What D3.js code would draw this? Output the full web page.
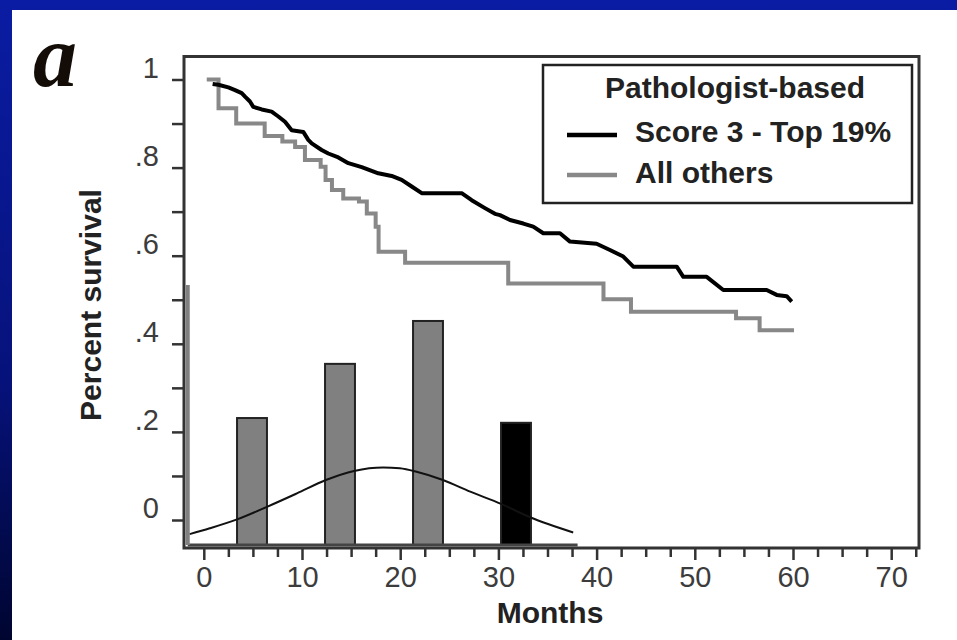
<!DOCTYPE html>
<html lang="en">
<head>
    <meta charset="UTF-8">
    <style>
        body {
            margin: 0;
            padding: 0;
            overflow: hidden;
            background-color: #fff;
        }

        #chart {
            display: block;
        }

        .tick-label {
            font-family: "Liberation Sans", Arial, sans-serif;
            font-size: 29px;
            fill: #3c3c3c;
        }

        .title {
            font-family: "Liberation Sans", Arial, sans-serif;
            font-size: 30px;
            font-weight: bold;
            fill: #222;
        }
    </style>
</head>
<body>
    <svg id="chart"></svg>

    <script src="https://cdn.jsdelivr.net/npm/d3@7"></script>
    <script>
        const width = 957;
        const height = 640;

        // axis ticks
        const monthTicks = [0, 10, 20, 30, 40, 50, 60, 70];
        const survivalTicks = [0, 0.2, 0.4, 0.6, 0.8, 1];
        const survivalTickLabels = ["0", ".2", ".4", ".6", ".8", "1"];

        // Score 3 - Top 19% (black)
        const topMonths = [0.9, 1.48, 2.5, 3.18, 3.86, 4.2, 4.7, 5.04, 5.9, 6.91, 7.59, 8.27, 8.95, 10.13, 10.64, 10.99,
            12.0, 12.68, 13.7, 14.72, 16.08, 17.77, 19.13, 20.15, 21.17, 22.19, 26.26, 27.28, 28.63, 29.65, 30.16,
            31.18, 32.54, 33.55, 34.57, 36.27, 37.29, 40.0, 41.36, 42.72, 43.74, 48.16, 48.83, 51.21, 52.9, 57.32,
            58.34, 59.36, 59.87];
        const topSurvival = [0.99, 0.988, 0.982, 0.976, 0.969, 0.961, 0.95, 0.938, 0.932, 0.927, 0.916, 0.904, 0.885, 0.881, 0.863, 0.855,
            0.84, 0.832, 0.823, 0.81, 0.801, 0.787, 0.781, 0.772, 0.757, 0.742, 0.742, 0.726, 0.708, 0.695, 0.692,
            0.681, 0.673, 0.666, 0.651, 0.651, 0.632, 0.627, 0.613, 0.598, 0.575, 0.575, 0.552, 0.552, 0.522, 0.522,
            0.511, 0.508, 0.496];

        // All others (grey), step points
        const otherMonths = [0.3, 1.5, 3.3, 6.2, 8.0, 9.3, 10.3, 11.9, 12.4, 13.05, 14.2, 15.8, 16.6, 17.5, 17.8, 20.5,
            31.0, 40.7, 43.5, 54.2, 56.6, 60.1];
        const otherSurvival = [1.0, 0.935, 0.9, 0.872, 0.859, 0.847, 0.817, 0.802, 0.772, 0.749, 0.730, 0.723, 0.696, 0.666, 0.609, 0.584,
            0.537, 0.501, 0.473, 0.458, 0.431, 0.431];

        // inset histogram
        const histBins = [1, 2, 3, 4];
        const histValues = [29.3, 41.8, 51.7, 28.2];
        const histColors = ["#808080", "#808080", "#808080", "#000"];
        const curveBins = [0.29, 0.52, 0.83, 1.17, 1.51, 1.84, 2.16, 2.49, 2.68, 2.87, 3.17, 3.48, 3.83, 4.16, 4.65];
        const curveValues = [2.5, 3.85, 5.9, 8.8, 11.9, 15.0, 17.1, 17.9, 17.7, 16.9, 15.0, 12.3, 9.5, 6.4, 2.9];

        const legendTitle = "Pathologist-based";
        const legendLabels = ["Score 3 - Top 19%", "All others"];
        const lineColors = ["#000", "#888"];

        const svg = d3.select("#chart")
            .attr("width", width)
            .attr("height", height);

        // blue slide frame
        const defs = svg.append("defs");
        const grad = defs.append("linearGradient")
            .attr("id", "bg")
            .attr("x1", 0).attr("y1", 0).attr("x2", 0).attr("y2", 1);
        grad.append("stop").attr("offset", "0%").attr("stop-color", "#0a1ca3");
        grad.append("stop").attr("offset", "60%").attr("stop-color", "#06127a");
        grad.append("stop").attr("offset", "100%").attr("stop-color", "#000530");

        svg.append("rect").attr("width", width).attr("height", height).attr("fill", "url(#bg)");
        svg.append("rect").attr("x", 12).attr("y", 10).attr("width", width - 12).attr("height", height - 10).attr("fill", "#fff");

        svg.append("text")
            .attr("x", 33)
            .attr("y", 86)
            .style("font-family", "'Liberation Serif', 'Times New Roman', serif")
            .style("font-style", "italic")
            .style("font-weight", "bold")
            .style("font-size", "88px")
            .attr("fill", "#140c06")
            .text("a");

        const frameLeft = 184, frameRight = 919, frameTop = 56.5, frameBottom = 548;

        const x = d3.scaleLinear().domain([0, 70]).range([203.8, 891.2]);
        const y = d3.scaleLinear().domain([0, 1]).range([520, 79.5]);

        // inset scales
        const hx = d3.scaleLinear().domain([0, 5]).range([164, 604]);
        const hy = d3.scaleLinear().domain([0, 60]).range([545, 285]);

        // frame
        svg.append("path")
            .attr("d", `M${frameLeft},${frameBottom}V${frameTop}H${frameRight}V${frameBottom}Z`)
            .attr("fill", "none")
            .attr("stroke", "#333")
            .attr("stroke-width", 3);

        // y axis
        const yTicks = d3.range(0, 11).map(i => i / 10);
        const yAxis = svg.append("g")
            .attr("transform", `translate(${frameLeft},0)`)
            .call(d3.axisLeft(y)
                .tickValues(yTicks)
                .tickSize(12)
                .tickPadding(13)
                .tickFormat(d => {
                    const i = survivalTicks.findIndex(t => Math.abs(t - d) < 1e-6);
                    return i < 0 ? "" : survivalTickLabels[i];
                }));
        yAxis.select(".domain").remove();
        yAxis.selectAll("line").attr("stroke", "#333").attr("stroke-width", 2.5);
        yAxis.selectAll("text").attr("class", "tick-label").attr("dy", "-0.07em").attr("fill", null);

        // x axis: minor then major ticks
        const minorTicks = d3.range(0, 30).map(i => i * 2.5).filter(d => d % 10 !== 0 && d <= 72.5);
        const xMinor = svg.append("g")
            .attr("transform", `translate(0,${frameBottom})`)
            .call(d3.axisBottom(x).tickValues(minorTicks).tickSize(9).tickFormat(""));
        xMinor.select(".domain").remove();
        xMinor.selectAll("line").attr("stroke", "#333").attr("stroke-width", 2.5);

        const xAxis = svg.append("g")
            .attr("transform", `translate(0,${frameBottom})`)
            .call(d3.axisBottom(x).tickValues(monthTicks).tickSize(12).tickPadding(6));
        xAxis.select(".domain").remove();
        xAxis.selectAll("line").attr("stroke", "#333").attr("stroke-width", 2.5);
        xAxis.selectAll("text").attr("class", "tick-label").attr("fill", null);

        // axis titles
        svg.append("text")
            .attr("class", "title")
            .attr("x", 550)
            .attr("y", 623)
            .attr("text-anchor", "middle")
            .text("Months");

        svg.append("text")
            .attr("class", "title")
            .attr("transform", "translate(101,305) rotate(-90)")
            .attr("text-anchor", "middle")
            .text("Percent survival");

        // inset histogram
        const inset = svg.append("g");
        inset.selectAll("rect")
            .data(histBins)
            .enter().append("rect")
            .attr("x", d => hx(d - 0.17))
            .attr("width", hx(0.34) - hx(0))
            .attr("y", (d, i) => hy(histValues[i]))
            .attr("height", (d, i) => hy(0) - hy(histValues[i]))
            .attr("fill", (d, i) => histColors[i])
            .attr("stroke", "#222")
            .attr("stroke-width", 2);

        inset.append("path")
            .datum(curveBins.map((b, i) => [b, curveValues[i]]))
            .attr("fill", "none")
            .attr("stroke", "#111")
            .attr("stroke-width", 2)
            .attr("d", d3.line().x(d => hx(d[0])).y(d => hy(d[1])).curve(d3.curveMonotoneX));

        inset.append("line")
            .attr("x1", hx(0.27)).attr("x2", hx(4.7))
            .attr("y1", hy(0)).attr("y2", hy(0))
            .attr("stroke", "#444").attr("stroke-width", 3);
        inset.append("line")
            .attr("x1", hx(0.27)).attr("x2", hx(0.27))
            .attr("y1", hy(0)).attr("y2", hy(60))
            .attr("stroke", "#808080").attr("stroke-width", 4);

        // survival curves
        svg.append("path")
            .datum(otherMonths.map((m, i) => [m, otherSurvival[i]]))
            .attr("fill", "none")
            .attr("stroke", lineColors[1])
            .attr("stroke-width", 4)
            .attr("d", d3.line().x(d => x(d[0])).y(d => y(d[1])).curve(d3.curveStepAfter));

        svg.append("path")
            .datum(topMonths.map((m, i) => [m, topSurvival[i]]))
            .attr("fill", "none")
            .attr("stroke", lineColors[0])
            .attr("stroke-width", 4)
            .attr("stroke-linejoin", "round")
            .attr("d", d3.line().x(d => x(d[0])).y(d => y(d[1])));

        // legend
        const legend = svg.append("g");
        legend.append("rect")
            .attr("x", 543).attr("y", 65)
            .attr("width", 369).attr("height", 138)
            .attr("fill", "#fff")
            .attr("stroke", "#222")
            .attr("stroke-width", 2.5);
        legend.append("text")
            .attr("class", "title")
            .attr("x", 735).attr("y", 98)
            .attr("text-anchor", "middle")
            .text(legendTitle);

        legendLabels.forEach((label, i) => {
            const ly = 135 + i * 40;
            legend.append("line")
                .attr("x1", 567).attr("x2", 617)
                .attr("y1", ly).attr("y2", ly)
                .attr("stroke", lineColors[i])
                .attr("stroke-width", 4.5);
            legend.append("text")
                .attr("class", "title")
                .attr("x", 635).attr("y", ly + 7 + i)
                .text(label);
        });
    </script>
</body>
</html>
